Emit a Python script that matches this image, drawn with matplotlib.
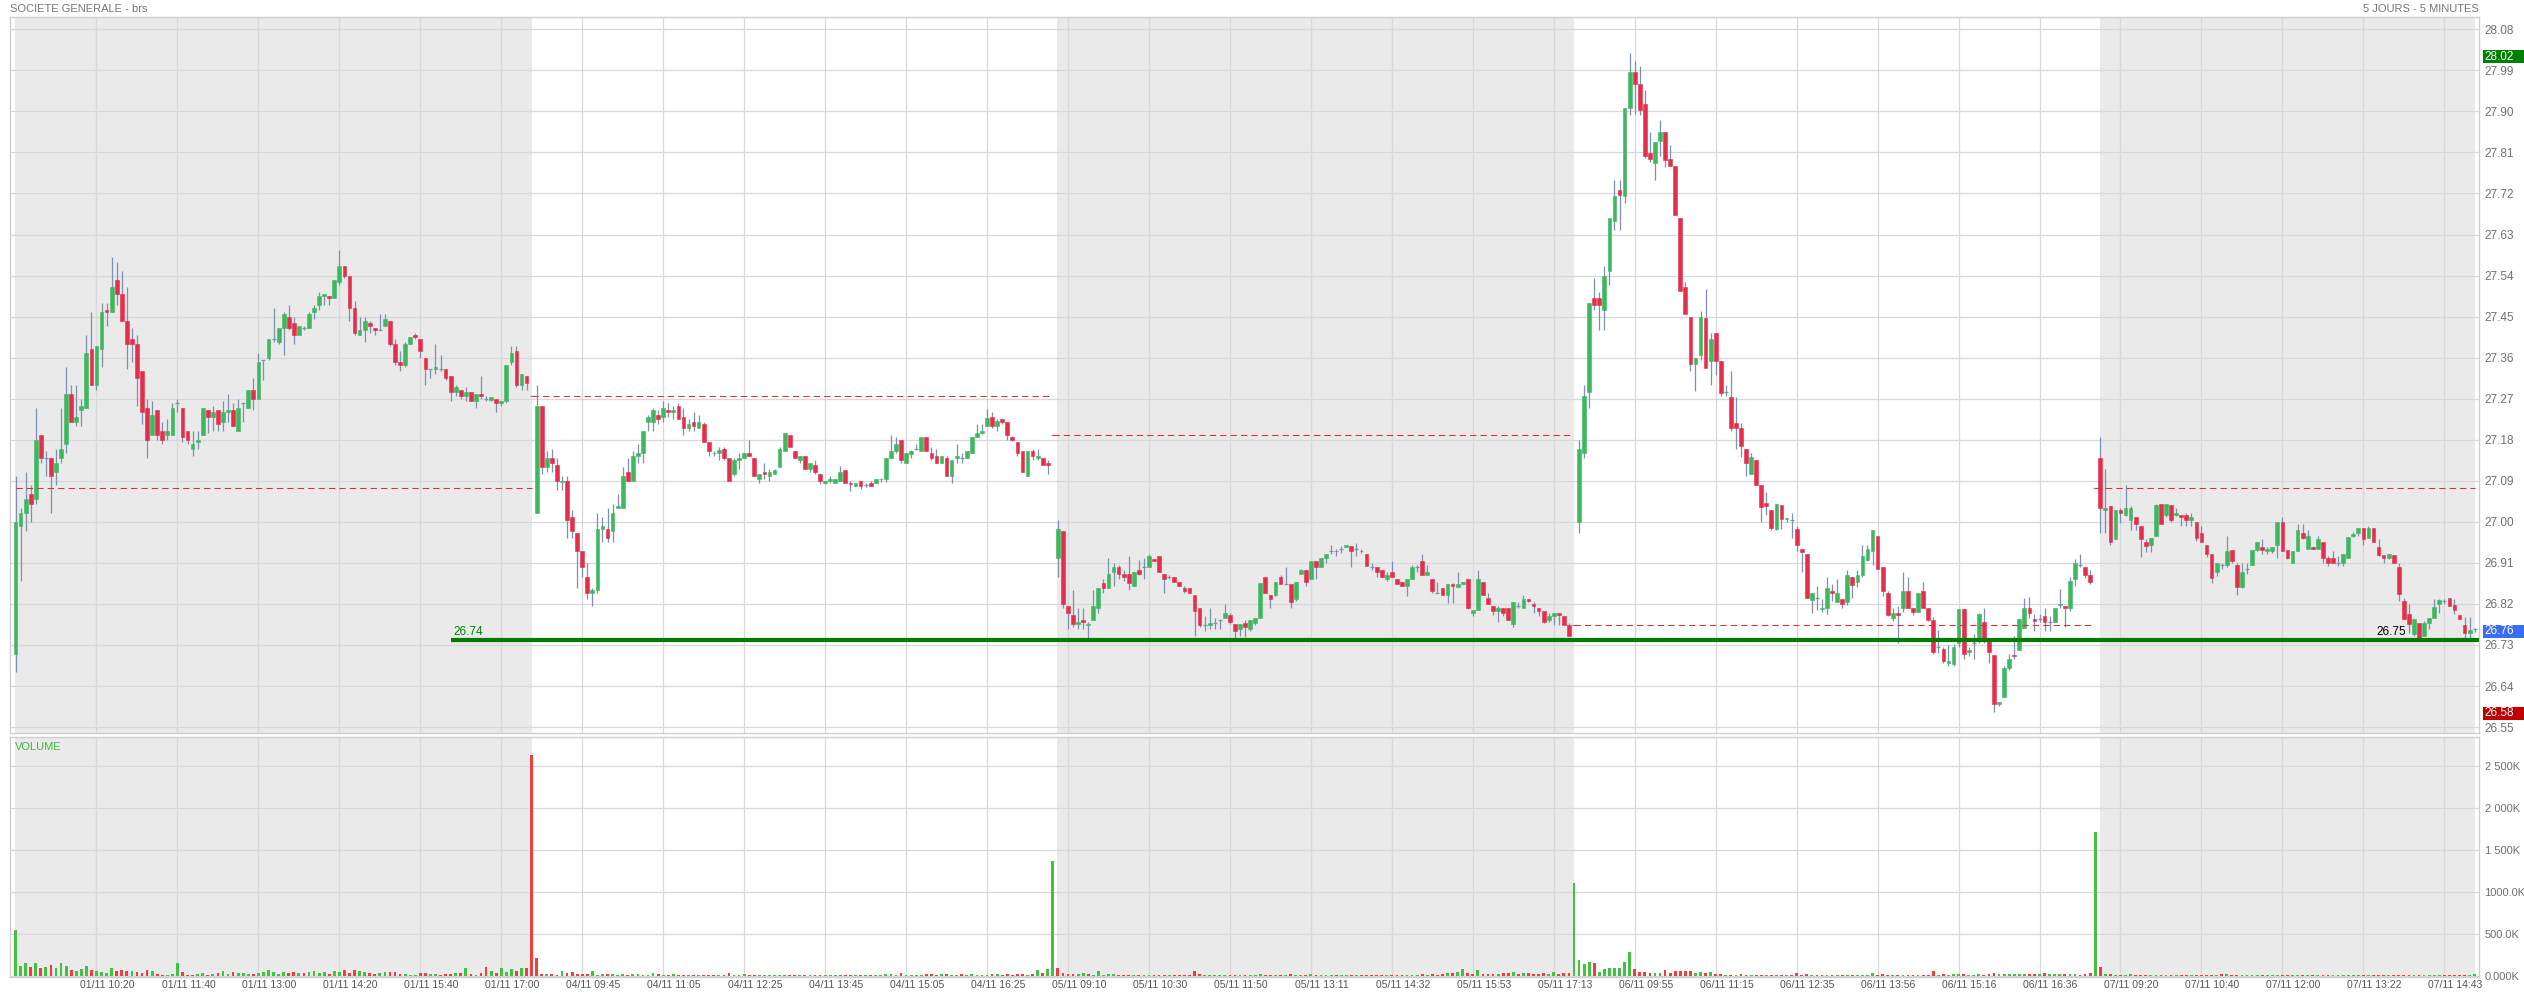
import numpy as np
import matplotlib.pyplot as plt
from matplotlib.patches import Rectangle
from matplotlib.transforms import blended_transform_factory, ScaledTranslation

plt.rcParams['font.family'] = ['Liberation Sans', 'DejaVu Sans']

# 5-minute candles, (open, high, low, close) per day
day1 = [
    (26.71, 27.10, 26.67, 27.00), (26.99, 27.03, 26.87, 27.02), (27.02, 27.11, 26.98, 27.05),
    (27.06, 27.08, 27.00, 27.04), (27.05, 27.25, 27.04, 27.18), (27.19, 27.19, 27.13, 27.14),
    (27.14, 27.155, 27.10, 27.14), (27.14, 27.14, 27.02, 27.10), (27.11, 27.16, 27.08, 27.13),
    (27.14, 27.25, 27.13, 27.16), (27.17, 27.34, 27.15, 27.28), (27.28, 27.30, 27.22, 27.22),
    (27.22, 27.30, 27.21, 27.23), (27.245, 27.27, 27.21, 27.255), (27.25, 27.41, 27.25, 27.37),
    (27.38, 27.46, 27.30, 27.30), (27.30, 27.385, 27.29, 27.385), (27.38, 27.48, 27.34, 27.46),
    (27.465, 27.48, 27.43, 27.46), (27.46, 27.58, 27.46, 27.515), (27.53, 27.57, 27.475, 27.50),
    (27.50, 27.55, 27.44, 27.44), (27.44, 27.515, 27.335, 27.39), (27.40, 27.425, 27.35, 27.39),
    (27.39, 27.41, 27.255, 27.315), (27.33, 27.33, 27.215, 27.24), (27.25, 27.27, 27.14, 27.18),
    (27.19, 27.265, 27.19, 27.235), (27.245, 27.245, 27.18, 27.19), (27.20, 27.22, 27.17, 27.18),
    (27.19, 27.225, 27.18, 27.20), (27.19, 27.26, 27.19, 27.25), (27.26, 27.27, 27.24, 27.26),
    (27.25, 27.25, 27.175, 27.185), (27.20, 27.20, 27.17, 27.18), (27.16, 27.20, 27.145, 27.17),
    (27.175, 27.20, 27.16, 27.18), (27.19, 27.25, 27.19, 27.25), (27.245, 27.245, 27.195, 27.23),
    (27.23, 27.255, 27.20, 27.24), (27.245, 27.245, 27.20, 27.215), (27.22, 27.265, 27.20, 27.24),
    (27.24, 27.28, 27.22, 27.245), (27.245, 27.26, 27.21, 27.21), (27.20, 27.27, 27.20, 27.25),
    (27.26, 27.26, 27.22, 27.26), (27.25, 27.29, 27.25, 27.29), (27.29, 27.315, 27.245, 27.27),
    (27.27, 27.37, 27.27, 27.35), (27.355, 27.355, 27.31, 27.355), (27.36, 27.40, 27.355, 27.40),
    (27.40, 27.47, 27.395, 27.40), (27.395, 27.425, 27.39, 27.425), (27.425, 27.46, 27.365, 27.455),
    (27.45, 27.475, 27.42, 27.425), (27.435, 27.45, 27.39, 27.41), (27.41, 27.43, 27.41, 27.43),
    (27.425, 27.43, 27.42, 27.425), (27.425, 27.46, 27.425, 27.455), (27.46, 27.475, 27.445, 27.47),
    (27.475, 27.505, 27.465, 27.495), (27.496, 27.50, 27.476, 27.499), (27.495, 27.495, 27.475, 27.49),
    (27.49, 27.53, 27.49, 27.53), (27.525, 27.595, 27.52, 27.56), (27.56, 27.56, 27.535, 27.54),
    (27.54, 27.54, 27.44, 27.47), (27.47, 27.485, 27.41, 27.415), (27.41, 27.45, 27.41, 27.42),
    (27.42, 27.45, 27.395, 27.44), (27.435, 27.44, 27.415, 27.43), (27.425, 27.425, 27.41, 27.42),
    (27.42, 27.455, 27.42, 27.42), (27.43, 27.455, 27.43, 27.445), (27.44, 27.44, 27.385, 27.39),
    (27.39, 27.40, 27.345, 27.35), (27.35, 27.375, 27.33, 27.345), (27.345, 27.395, 27.34, 27.39),
    (27.39, 27.405, 27.39, 27.405), (27.41, 27.415, 27.40, 27.405), (27.40, 27.40, 27.36, 27.375),
    (27.36, 27.36, 27.30, 27.335), (27.335, 27.335, 27.315, 27.335), (27.335, 27.39, 27.325, 27.34),
    (27.335, 27.365, 27.33, 27.335), (27.335, 27.335, 27.31, 27.315), (27.32, 27.32, 27.265, 27.285),
    (27.285, 27.30, 27.275, 27.295), (27.29, 27.29, 27.27, 27.275), (27.275, 27.295, 27.265, 27.285),
    (27.285, 27.285, 27.265, 27.265), (27.265, 27.28, 27.25, 27.28), (27.28, 27.32, 27.27, 27.275),
    (27.27, 27.275, 27.265, 27.27), (27.268, 27.273, 27.265, 27.273), (27.27, 27.27, 27.24, 27.26),
    (27.26, 27.265, 27.255, 27.264), (27.265, 27.345, 27.26, 27.345), (27.35, 27.385, 27.345, 27.37),
    (27.375, 27.385, 27.295, 27.30), (27.30, 27.325, 27.29, 27.325), (27.32, 27.32, 27.29, 27.305),
    (27.275, 27.275, 27.275, 27.275),
]
day2 = [
    (27.02, 27.30, 27.02, 27.255), (27.255, 27.255, 27.105, 27.12), (27.12, 27.155, 27.11, 27.14),
    (27.14, 27.16, 27.11, 27.13), (27.125, 27.14, 27.07, 27.09), (27.088, 27.10, 27.07, 27.09),
    (27.09, 27.10, 26.965, 27.005), (27.01, 27.025, 26.965, 26.98), (26.975, 26.975, 26.855, 26.935),
    (26.935, 26.935, 26.88, 26.90), (26.88, 26.91, 26.83, 26.845), (26.845, 26.855, 26.815, 26.85),
    (26.85, 27.02, 26.845, 26.985), (26.985, 27.01, 26.955, 26.99), (26.985, 27.03, 26.955, 26.965),
    (26.98, 27.04, 26.955, 27.02), (27.03, 27.06, 27.03, 27.035), (27.03, 27.12, 27.03, 27.10),
    (27.11, 27.14, 27.09, 27.09), (27.09, 27.155, 27.09, 27.145), (27.145, 27.17, 27.13, 27.15),
    (27.15, 27.20, 27.13, 27.20), (27.22, 27.235, 27.20, 27.23), (27.22, 27.25, 27.20, 27.245),
    (27.235, 27.245, 27.215, 27.225), (27.23, 27.265, 27.22, 27.25), (27.245, 27.26, 27.23, 27.24),
    (27.24, 27.255, 27.225, 27.245), (27.255, 27.26, 27.225, 27.225), (27.23, 27.25, 27.19, 27.205),
    (27.205, 27.225, 27.20, 27.215), (27.22, 27.24, 27.20, 27.21), (27.205, 27.235, 27.205, 27.22),
    (27.215, 27.22, 27.175, 27.175), (27.175, 27.175, 27.145, 27.155), (27.15, 27.155, 27.145, 27.152),
    (27.15, 27.165, 27.135, 27.157), (27.16, 27.165, 27.135, 27.14), (27.14, 27.14, 27.09, 27.09),
    (27.105, 27.14, 27.10, 27.135), (27.135, 27.15, 27.115, 27.14), (27.14, 27.15, 27.14, 27.15),
    (27.15, 27.18, 27.145, 27.145), (27.14, 27.14, 27.10, 27.10), (27.095, 27.105, 27.085, 27.105),
    (27.11, 27.13, 27.095, 27.105), (27.10, 27.115, 27.09, 27.11), (27.105, 27.115, 27.105, 27.113),
    (27.12, 27.165, 27.12, 27.16), (27.155, 27.195, 27.155, 27.195), (27.19, 27.19, 27.165, 27.165),
    (27.155, 27.155, 27.14, 27.14), (27.135, 27.145, 27.13, 27.145), (27.145, 27.145, 27.115, 27.115),
    (27.115, 27.13, 27.11, 27.13), (27.125, 27.135, 27.105, 27.11), (27.105, 27.105, 27.082, 27.09),
    (27.085, 27.09, 27.082, 27.09), (27.09, 27.10, 27.085, 27.093), (27.085, 27.095, 27.085, 27.093),
    (27.09, 27.122, 27.09, 27.11), (27.113, 27.113, 27.085, 27.085), (27.085, 27.09, 27.068, 27.083),
    (27.078, 27.085, 27.078, 27.085), (27.09, 27.09, 27.073, 27.078), (27.08, 27.085, 27.077, 27.08),
    (27.085, 27.09, 27.078, 27.079), (27.085, 27.093, 27.085, 27.093), (27.093, 27.097, 27.088, 27.095),
    (27.093, 27.14, 27.088, 27.14), (27.14, 27.19, 27.14, 27.155), (27.155, 27.185, 27.15, 27.17),
    (27.18, 27.18, 27.128, 27.135), (27.13, 27.15, 27.128, 27.15), (27.148, 27.158, 27.14, 27.155),
    (27.16, 27.17, 27.157, 27.16), (27.155, 27.185, 27.155, 27.185), (27.185, 27.185, 27.155, 27.155),
    (27.15, 27.165, 27.135, 27.14), (27.145, 27.16, 27.13, 27.13), (27.13, 27.145, 27.13, 27.145),
    (27.14, 27.145, 27.10, 27.10), (27.10, 27.135, 27.085, 27.135), (27.14, 27.17, 27.13, 27.145),
    (27.14, 27.15, 27.13, 27.14), (27.14, 27.155, 27.14, 27.155), (27.15, 27.185, 27.15, 27.185),
    (27.185, 27.215, 27.185, 27.195), (27.195, 27.215, 27.193, 27.20), (27.21, 27.247, 27.21, 27.227),
    (27.23, 27.24, 27.205, 27.21), (27.21, 27.226, 27.20, 27.222), (27.225, 27.226, 27.215, 27.22),
    (27.22, 27.22, 27.18, 27.19), (27.185, 27.188, 27.178, 27.18), (27.175, 27.175, 27.145, 27.15),
    (27.155, 27.155, 27.11, 27.11), (27.10, 27.155, 27.10, 27.155), (27.155, 27.16, 27.135, 27.145),
    (27.14, 27.16, 27.135, 27.145), (27.14, 27.14, 27.125, 27.125), (27.13, 27.135, 27.105, 27.125),
    (27.19, 27.19, 27.19, 27.19),
]
day3 = [
    (26.92, 27.005, 26.88, 26.985), (26.98, 26.98, 26.81, 26.82), (26.815, 26.815, 26.765, 26.80),
    (26.795, 26.85, 26.77, 26.775), (26.775, 26.81, 26.765, 26.78), (26.785, 26.81, 26.765, 26.78),
    (26.774, 26.78, 26.745, 26.775), (26.785, 26.85, 26.785, 26.815), (26.81, 26.855, 26.80, 26.855),
    (26.865, 26.875, 26.845, 26.855), (26.855, 26.92, 26.855, 26.885), (26.89, 26.91, 26.86, 26.90),
    (26.90, 26.905, 26.875, 26.885), (26.885, 26.895, 26.87, 26.88), (26.885, 26.925, 26.85, 26.865),
    (26.86, 26.89, 26.86, 26.89), (26.895, 26.917, 26.884, 26.885), (26.90, 26.92, 26.875, 26.90),
    (26.90, 26.93, 26.90, 26.926), (26.918, 26.918, 26.914, 26.915), (26.926, 26.926, 26.89, 26.89),
    (26.885, 26.885, 26.845, 26.875), (26.88, 26.884, 26.875, 26.879), (26.879, 26.879, 26.869, 26.869),
    (26.869, 26.869, 26.859, 26.859), (26.855, 26.859, 26.845, 26.848), (26.855, 26.855, 26.844, 26.844),
    (26.84, 26.84, 26.75, 26.805), (26.81, 26.81, 26.77, 26.774), (26.774, 26.793, 26.76, 26.774),
    (26.774, 26.81, 26.765, 26.778), (26.778, 26.79, 26.765, 26.778), (26.785, 26.785, 26.765, 26.785),
    (26.79, 26.82, 26.79, 26.80), (26.795, 26.80, 26.775, 26.78), (26.775, 26.775, 26.745, 26.76),
    (26.765, 26.775, 26.75, 26.775), (26.778, 26.785, 26.748, 26.77), (26.765, 26.785, 26.76, 26.785),
    (26.778, 26.79, 26.774, 26.79), (26.79, 26.865, 26.79, 26.865), (26.88, 26.88, 26.844, 26.845),
    (26.84, 26.84, 26.81, 26.83), (26.84, 26.868, 26.837, 26.868), (26.88, 26.884, 26.864, 26.864),
    (26.864, 26.90, 26.864, 26.864), (26.864, 26.864, 26.81, 26.825), (26.83, 26.868, 26.826, 26.868),
    (26.885, 26.896, 26.885, 26.895), (26.895, 26.895, 26.86, 26.868), (26.875, 26.914, 26.875, 26.914),
    (26.914, 26.914, 26.875, 26.90), (26.90, 26.92, 26.90, 26.92), (26.92, 26.93, 26.91, 26.93),
    (26.937, 26.95, 26.93, 26.937), (26.936, 26.94, 26.926, 26.935), (26.94, 26.946, 26.932, 26.94),
    (26.945, 26.95, 26.944, 26.95), (26.946, 26.946, 26.90, 26.935), (26.94, 26.954, 26.926, 26.94),
    (26.937, 26.94, 26.932, 26.936), (26.93, 26.93, 26.904, 26.904), (26.90, 26.91, 26.895, 26.90),
    (26.90, 26.90, 26.88, 26.89), (26.895, 26.895, 26.88, 26.88), (26.875, 26.89, 26.87, 26.884),
    (26.89, 26.915, 26.88, 26.88), (26.875, 26.875, 26.864, 26.864), (26.868, 26.868, 26.859, 26.859),
    (26.859, 26.875, 26.837, 26.875), (26.875, 26.905, 26.875, 26.90), (26.90, 26.905, 26.89, 26.90),
    (26.914, 26.93, 26.884, 26.884), (26.884, 26.905, 26.884, 26.89), (26.875, 26.875, 26.844, 26.848),
    (26.844, 26.868, 26.844, 26.844), (26.855, 26.855, 26.84, 26.84), (26.84, 26.864, 26.822, 26.864),
    (26.864, 26.866, 26.822, 26.859), (26.857, 26.89, 26.857, 26.864), (26.864, 26.868, 26.864, 26.868),
    (26.875, 26.875, 26.809, 26.81), (26.80, 26.807, 26.793, 26.807), (26.806, 26.895, 26.806, 26.875),
    (26.868, 26.868, 26.84, 26.84), (26.833, 26.845, 26.82, 26.82), (26.815, 26.815, 26.795, 26.805),
    (26.805, 26.815, 26.78, 26.81), (26.81, 26.81, 26.793, 26.80), (26.81, 26.81, 26.785, 26.785),
    (26.775, 26.824, 26.77, 26.824), (26.815, 26.824, 26.81, 26.815), (26.81, 26.84, 26.81, 26.83),
    (26.83, 26.83, 26.825, 26.826), (26.82, 26.825, 26.80, 26.815), (26.81, 26.81, 26.793, 26.804),
    (26.805, 26.805, 26.778, 26.78), (26.785, 26.80, 26.78, 26.793), (26.793, 26.80, 26.774, 26.80),
    (26.80, 26.80, 26.774, 26.795), (26.793, 26.793, 26.774, 26.774), (26.774, 26.778, 26.75, 26.75),
    (26.774, 26.774, 26.774, 26.774),
]
day4 = [
    (27.00, 27.18, 26.975, 27.16), (27.15, 27.30, 27.14, 27.275), (27.285, 27.48, 27.25, 27.48),
    (27.49, 27.535, 27.465, 27.475), (27.49, 27.505, 27.42, 27.475), (27.465, 27.56, 27.42, 27.54),
    (27.55, 27.667, 27.52, 27.667), (27.66, 27.75, 27.64, 27.715), (27.727, 27.75, 27.64, 27.716),
    (27.715, 27.907, 27.70, 27.907), (27.907, 28.027, 27.893, 27.987), (27.987, 28.01, 27.895, 27.96),
    (27.96, 28.00, 27.893, 27.903), (27.917, 27.946, 27.798, 27.803), (27.808, 27.855, 27.79, 27.796),
    (27.786, 27.832, 27.75, 27.832), (27.835, 27.881, 27.803, 27.854), (27.854, 27.854, 27.778, 27.793),
    (27.796, 27.826, 27.781, 27.781), (27.781, 27.781, 27.672, 27.672), (27.667, 27.667, 27.507, 27.507),
    (27.514, 27.527, 27.456, 27.456), (27.45, 27.45, 27.33, 27.347), (27.347, 27.36, 27.287, 27.36),
    (27.366, 27.462, 27.354, 27.45), (27.446, 27.511, 27.337, 27.337), (27.352, 27.413, 27.30, 27.402),
    (27.415, 27.415, 27.323, 27.352), (27.352, 27.352, 27.277, 27.282), (27.285, 27.30, 27.277, 27.285),
    (27.274, 27.331, 27.20, 27.205), (27.216, 27.274, 27.159, 27.205), (27.205, 27.216, 27.142, 27.167),
    (27.16, 27.16, 27.10, 27.128), (27.106, 27.15, 27.106, 27.142), (27.135, 27.135, 27.08, 27.08),
    (27.08, 27.08, 27.00, 27.032), (27.041, 27.066, 27.015, 27.035), (27.026, 27.026, 26.983, 26.987),
    (26.985, 27.04, 26.982, 27.04), (27.036, 27.036, 26.985, 27.006), (27.006, 27.008, 27.00, 27.008),
    (27.005, 27.02, 26.965, 27.005), (26.985, 26.99, 26.935, 26.95), (26.94, 26.94, 26.89, 26.933),
    (26.93, 26.93, 26.833, 26.833), (26.828, 26.843, 26.80, 26.843), (26.833, 26.86, 26.807, 26.833),
    (26.808, 26.83, 26.803, 26.81), (26.81, 26.88, 26.797, 26.855), (26.848, 26.863, 26.827, 26.843),
    (26.825, 26.875, 26.825, 26.845), (26.83, 26.83, 26.812, 26.82), (26.825, 26.895, 26.817, 26.883),
    (26.878, 26.878, 26.833, 26.861), (26.868, 26.895, 26.858, 26.883), (26.883, 26.95, 26.88, 26.926),
    (26.916, 26.95, 26.915, 26.94), (26.937, 26.983, 26.905, 26.983), (26.97, 26.97, 26.896, 26.896),
    (26.90, 26.90, 26.838, 26.848), (26.845, 26.848, 26.793, 26.795), (26.79, 26.81, 26.783, 26.80),
    (26.80, 26.815, 26.735, 26.795), (26.81, 26.89, 26.803, 26.848), (26.848, 26.878, 26.81, 26.81),
    (26.81, 26.81, 26.795, 26.803), (26.803, 26.845, 26.803, 26.845), (26.848, 26.868, 26.81, 26.81),
    (26.81, 26.81, 26.783, 26.785), (26.785, 26.792, 26.71, 26.715), (26.725, 26.763, 26.712, 26.725),
    (26.722, 26.725, 26.69, 26.695), (26.69, 26.73, 26.685, 26.695), (26.688, 26.732, 26.685, 26.725),
    (26.735, 26.808, 26.725, 26.808), (26.808, 26.808, 26.70, 26.71), (26.715, 26.725, 26.705, 26.72),
    (26.735, 26.755, 26.70, 26.735), (26.74, 26.80, 26.735, 26.798), (26.78, 26.81, 26.735, 26.74),
    (26.74, 26.74, 26.69, 26.715), (26.708, 26.708, 26.583, 26.60), (26.60, 26.605, 26.597, 26.605),
    (26.615, 26.685, 26.615, 26.68), (26.68, 26.71, 26.675, 26.70), (26.708, 26.75, 26.70, 26.705),
    (26.72, 26.788, 26.72, 26.788), (26.768, 26.832, 26.768, 26.81), (26.81, 26.835, 26.79, 26.80),
    (26.788, 26.798, 26.76, 26.783), (26.788, 26.798, 26.78, 26.788), (26.793, 26.81, 26.76, 26.78),
    (26.78, 26.793, 26.76, 26.78), (26.78, 26.812, 26.78, 26.812), (26.818, 26.853, 26.81, 26.82),
    (26.815, 26.815, 26.77, 26.81), (26.81, 26.88, 26.805, 26.87), (26.875, 26.918, 26.86, 26.91),
    (26.905, 26.93, 26.90, 26.905), (26.90, 26.90, 26.877, 26.883), (26.883, 26.895, 26.863, 26.868),
    (27.075, 27.075, 27.075, 27.075),
]
day5 = [
    (27.14, 27.185, 26.975, 27.03), (27.025, 27.115, 26.975, 27.031), (27.035, 27.035, 26.95, 26.955),
    (26.962, 27.026, 26.962, 27.026), (27.026, 27.03, 26.998, 27.02), (27.015, 27.08, 27.013, 27.03),
    (27.004, 27.035, 26.982, 27.03), (27.01, 27.01, 26.982, 26.995), (26.99, 26.99, 26.922, 26.962),
    (26.955, 26.962, 26.933, 26.947), (26.949, 26.965, 26.933, 26.965), (26.97, 27.04, 26.97, 27.037),
    (27.04, 27.04, 26.996, 26.996), (27.015, 27.04, 27.01, 27.04), (27.037, 27.037, 27.00, 27.004),
    (27.015, 27.03, 27.013, 27.02), (27.016, 27.016, 26.99, 27.01), (27.015, 27.02, 26.99, 27.005),
    (27.005, 27.02, 26.99, 27.01), (27.00, 27.00, 26.958, 26.965), (26.975, 26.99, 26.955, 26.955),
    (26.95, 26.95, 26.922, 26.93), (26.93, 26.93, 26.867, 26.876), (26.891, 26.91, 26.881, 26.91),
    (26.905, 26.91, 26.896, 26.905), (26.905, 26.97, 26.90, 26.935), (26.938, 26.938, 26.91, 26.915),
    (26.905, 26.91, 26.84, 26.857), (26.857, 26.91, 26.855, 26.89), (26.897, 26.91, 26.885, 26.897),
    (26.905, 26.938, 26.905, 26.938), (26.938, 26.955, 26.935, 26.955), (26.945, 26.962, 26.93, 26.938),
    (26.935, 26.945, 26.93, 26.94), (26.935, 26.945, 26.932, 26.945), (26.95, 27.00, 26.92, 27.00),
    (27.00, 27.01, 26.935, 26.935), (26.938, 26.938, 26.918, 26.92), (26.91, 26.935, 26.91, 26.935),
    (26.935, 26.995, 26.935, 26.982), (26.975, 26.995, 26.962, 26.965), (26.94, 26.982, 26.94, 26.97),
    (26.945, 26.945, 26.94, 26.94), (26.94, 26.97, 26.94, 26.962), (26.955, 26.955, 26.91, 26.92),
    (26.92, 26.925, 26.903, 26.91), (26.92, 26.935, 26.91, 26.91), (26.91, 26.925, 26.903, 26.91),
    (26.91, 26.93, 26.903, 26.93), (26.92, 26.966, 26.92, 26.966), (26.97, 26.978, 26.967, 26.974),
    (26.975, 26.986, 26.968, 26.986), (26.986, 26.986, 26.95, 26.962), (26.965, 26.991, 26.965, 26.986),
    (26.986, 26.986, 26.955, 26.955), (26.945, 26.962, 26.925, 26.927), (26.927, 26.927, 26.91, 26.92),
    (26.92, 26.93, 26.918, 26.93), (26.927, 26.927, 26.91, 26.91), (26.90, 26.91, 26.826, 26.841),
    (26.826, 26.834, 26.786, 26.786), (26.797, 26.82, 26.757, 26.775), (26.754, 26.786, 26.75, 26.786),
    (26.778, 26.778, 26.746, 26.746), (26.75, 26.782, 26.75, 26.778), (26.779, 26.79, 26.766, 26.79),
    (26.79, 26.83, 26.79, 26.814), (26.82, 26.83, 26.80, 26.828), (26.826, 26.83, 26.82, 26.826),
    (26.832, 26.834, 26.815, 26.815), (26.818, 26.83, 26.797, 26.806), (26.795, 26.795, 26.786, 26.786),
    (26.774, 26.792, 26.742, 26.756), (26.757, 26.792, 26.74, 26.762), (26.764, 26.768, 26.758, 26.764),
]

# volume per candle, in thousands
vol1 = [545, 115, 148, 100, 155, 92, 100, 128, 92, 148, 120, 68, 52, 76, 116, 68, 52, 44, 36, 96,
        60, 68, 60, 52, 48, 28, 68, 52, 16, 12, 10, 22, 148, 40, 14, 12, 18, 30, 14, 22,
        36, 60, 24, 40, 28, 30, 26, 20, 30, 44, 66, 40, 22, 46, 36, 44, 32, 30, 44, 58,
        30, 40, 20, 56, 46, 64, 38, 66, 60, 44, 30, 26, 36, 40, 44, 48, 20, 26, 14, 10,
        34, 38, 26, 18, 14, 20, 24, 36, 30, 96, 20, 10, 30, 108, 60, 32, 88, 48, 78, 60,
        92, 96, 2628]
vol2 = [208, 20, 16, 18, 12, 60, 30, 40, 22, 24, 18, 60, 14, 18, 16, 18, 12, 22, 14, 20,
        18, 12, 8, 28, 16, 10, 12, 20, 12, 8, 10, 6, 6, 8, 10, 6, 6, 12, 30, 8,
        6, 20, 14, 10, 6, 6, 4, 4, 8, 6, 6, 6, 6, 8, 4, 6, 12, 8, 4, 4,
        6, 8, 6, 10, 12, 4, 6, 6, 4, 20, 24, 12, 28, 8, 6, 8, 10, 18, 22, 12,
        26, 22, 14, 8, 16, 12, 18, 14, 14, 12, 16, 20, 10, 18, 14, 24, 20, 12, 24, 64,
        32, 76, 1368]
vol3 = [88, 30, 24, 20, 16, 28, 20, 10, 60, 14, 18, 22, 10, 12, 8, 14, 10, 8, 10, 6,
        12, 8, 6, 6, 4, 8, 6, 60, 20, 8, 6, 4, 4, 6, 8, 10, 6, 6, 4, 8,
        16, 12, 10, 8, 14, 6, 20, 12, 10, 8, 16, 10, 8, 6, 4, 6, 4, 6, 10, 6,
        4, 12, 6, 8, 6, 6, 8, 8, 6, 10, 14, 8, 18, 10, 24, 12, 16, 30, 28, 40,
        80, 36, 16, 72, 20, 22, 18, 26, 36, 30, 44, 20, 28, 34, 26, 20, 30, 18, 44, 20,
        30, 36, 1100]
vol4 = [188, 136, 168, 148, 40, 76, 88, 96, 88, 164, 284, 80, 40, 40, 28, 36, 28, 68, 36, 60,
        60, 60, 60, 36, 40, 36, 40, 20, 16, 10, 14, 12, 16, 10, 8, 14, 10, 6, 12, 8,
        8, 6, 6, 28, 12, 16, 8, 6, 6, 10, 8, 10, 6, 8, 6, 12, 10, 8, 28, 14,
        24, 14, 8, 12, 14, 10, 8, 12, 14, 10, 56, 14, 16, 10, 24, 16, 24, 8, 10, 16,
        12, 24, 28, 20, 24, 20, 20, 20, 24, 16, 24, 20, 28, 24, 16, 22, 20, 20, 20, 12,
        22, 30, 1708]
vol5 = [108, 24, 16, 12, 10, 14, 20, 10, 8, 12, 6, 8, 6, 4, 6, 8, 10, 6, 4, 4,
        6, 6, 8, 4, 20, 16, 10, 6, 6, 8, 4, 6, 4, 6, 4, 4, 8, 6, 4, 4,
        10, 12, 6, 4, 4, 6, 4, 6, 4, 4, 4, 4, 10, 4, 6, 4, 6, 12, 10, 8,
        6, 10, 4, 4, 6, 4, 6, 8, 6, 4, 8, 10, 12, 6, 24]

prev_close = [27.075, 27.275, 27.19, 26.774, 27.075]
support = 26.742
tick_labels = ['01/11 10:20', '01/11 11:40', '01/11 13:00', '01/11 14:20', '01/11 15:40', '01/11 17:00',
               '04/11 09:45', '04/11 11:05', '04/11 12:25', '04/11 13:45', '04/11 15:05', '04/11 16:25',
               '05/11 09:10', '05/11 10:30', '05/11 11:50', '05/11 13:11', '05/11 14:32', '05/11 15:53',
               '05/11 17:13', '06/11 09:55', '06/11 11:15', '06/11 12:35', '06/11 13:56', '06/11 15:16',
               '06/11 16:36', '07/11 09:20', '07/11 10:40', '07/11 12:00', '07/11 13:22', '07/11 14:43']

days = [day1, day2, day3, day4, day5]
vols = [vol1, vol2, vol3, vol4, vol5]
for d, v in zip(days, vols):
    assert len(d) == len(v), (len(d), len(v))

ohlc = np.array([c for d in days for c in d])
o, h, l, c = ohlc.T
vol = np.concatenate(vols) * 1000.0
x = np.arange(len(c))
starts = np.cumsum([0] + [len(d) for d in days])

GREEN, RED, WICK = '#3db85f', '#e42e4c', '#7d91ae'
GRID, SHADE = '#d8d8d8', '#eaeaea'

W, H = 2524, 996
fig = plt.figure(figsize=(W / 100, H / 100), dpi=100)


def box(x0, y0, x1, y1):
    return [x0 / W, 1 - y1 / H, (x1 - x0) / W, (y1 - y0) / H]


ax = fig.add_axes(box(10, 17, 2479, 733))
axv = fig.add_axes(box(10, 737, 2479, 977), sharex=ax)

for a in (ax, axv):
    for k in (0, 2, 4):
        a.axvspan(starts[k] - 0.1, starts[k + 1] - 1, color=SHADE, lw=0, zorder=0)
    a.set_axisbelow(True)
    a.grid(True, color=GRID, lw=0.9)
    for s in a.spines.values():
        s.set_color('#cfcfcf')
        s.set_linewidth(1)
    a.yaxis.tick_right()
    a.tick_params(length=0)

# candles
up, dn, flat = c > o, c < o, c == o
ax.vlines(x, l, h, color=WICK, lw=0.9, zorder=2)
ax.bar(x[up], (c - o)[up], bottom=o[up], width=0.74, color=GREEN, edgecolor=GREEN, lw=0.4, zorder=3)
ax.bar(x[dn], (o - c)[dn], bottom=c[dn], width=0.74, color=RED, edgecolor=RED, lw=0.4, zorder=3)
ax.hlines(c[flat], x[flat] - 0.4, x[flat] + 0.4, color=WICK, lw=0.9, zorder=3)

# previous-close lines per day
for k, pc in enumerate(prev_close):
    x0 = starts[k] - 1 if k else 0
    ax.hlines(pc, x0, starts[k + 1] - 1, color='#e8283c', lw=0.75,
              linestyles=(0, (6, 4)), zorder=4)

# support line
ax.hlines(support, 86, 490, color='#007d00', lw=3, zorder=5)
ax.text(86.6, support + 0.004, '26.74', color='#008000', fontsize=8.5, va='bottom', zorder=6)
ax.text(466.5, support + 0.004, '26.75', color='black', fontsize=8.5, va='bottom', zorder=6)

ax.set_xlim(-1.09, 486.85)
ax.set_ylim(26.537, 28.107)
levels = np.round(np.arange(26.55, 28.1, 0.09), 2)
ax.set_yticks(levels)
ax.set_yticklabels([f'{v:.2f}' for v in levels])
ax.tick_params(axis='y', pad=4, labelsize=8.5, labelcolor='#707070')
ax.tick_params(axis='x', labelbottom=False)

# price boxes on the right axis
trans = blended_transform_factory(ax.transAxes, ax.transData)
for val, col in [(28.02, '#008000'), (26.76, '#3a6cf4'), (26.58, '#c00000')]:
    ax.add_patch(Rectangle((1.0016, val - 0.0145), 0.0166, 0.029, transform=trans,
                           fc=col, ec='none', clip_on=False, zorder=10))
    ax.text(1.0022, val, f'{val:.2f}', transform=trans, color='white', fontsize=8.5,
            va='center', ha='left', zorder=11, clip_on=False)

# volume
prev = np.concatenate([[o[0]], c[:-1]])
vcol = np.where(c >= prev, '#42c142', '#ef3e3e')
axv.bar(x, vol, width=0.55, color=vcol, lw=0, zorder=3)
axv.set_ylim(-15000, 2842000)
vt = [0, 500e3, 1000e3, 1500e3, 2000e3, 2500e3]
axv.set_yticks(vt)
axv.set_yticklabels(['0.000K', '500.0K', '1000.0K', '1 500K', '2 000K', '2 500K'])
axv.tick_params(axis='y', pad=4, labelsize=8, labelcolor='#707070')
axv.text(0.0022, 0.96, 'VOLUME', transform=axv.transAxes, color='#3cb83c', fontsize=8, va='center')

tick_idx = np.arange(16, 16 * (len(tick_labels) + 1), 16)
axv.set_xticks(tick_idx)
axv.set_xticklabels(tick_labels, fontsize=7.5, color='#555555')
axv.tick_params(axis='x', pad=2)
shift = ScaledTranslation(0.11, 0, fig.dpi_scale_trans)
for lbl in axv.get_xticklabels():
    lbl.set_transform(lbl.get_transform() + shift)

fig.text(10 / W, 1 - 9 / H, 'SOCIETE GENERALE - brs', fontsize=8, color='#777777', va='center')
fig.text(2479 / W, 1 - 9 / H, '5 JOURS - 5 MINUTES', fontsize=8, color='#777777', va='center', ha='right')

fig.savefig('out.png', dpi=100)
